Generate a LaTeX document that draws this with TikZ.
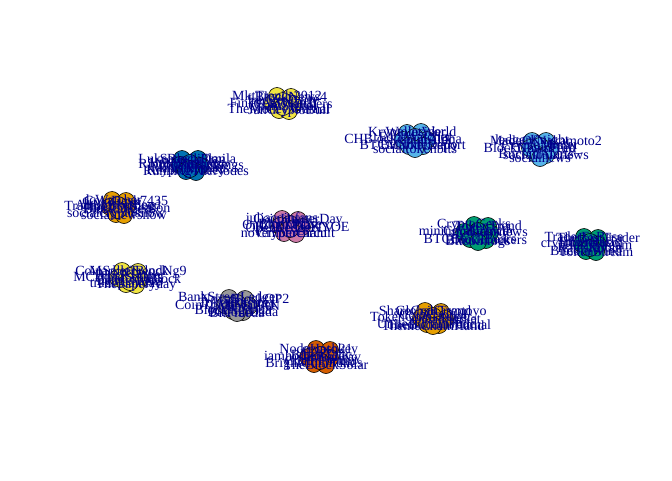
\documentclass[tikz,border=0pt]{standalone}
\usepackage{fontspec}
\setmainfont{Liberation Serif}
\definecolor{okyellow}{HTML}{F0E442}
\definecolor{oksky}{HTML}{56B4E9}
\definecolor{okblue}{HTML}{0072B2}
\definecolor{okorange}{HTML}{E69F00}
\definecolor{okpurple}{HTML}{CC79A7}
\definecolor{okgreen}{HTML}{009E73}
\definecolor{okgrey}{HTML}{999999}
\definecolor{okred}{HTML}{D55E00}
\definecolor{labelblue}{HTML}{00008B}
\tikzset{
  member/.style={circle, draw=black, line width=0.6pt, fill=#1, minimum size=17pt, inner sep=0pt},
  handle/.style={text=labelblue, font=\fontsize{14}{14}\selectfont, inner sep=0pt}
}
% one community: id, centre x, centre y, colour, list of dx/dy/label
\newcommand{\community}[5]{%
  \foreach \dx/\dy/\lab [count=\i] in {#5}
    \node[member=#4] (#1-\i) at (#2+\dx,#3+\dy) {};
  \foreach \dx/\dy/\lab [count=\i] in {#5}
    \node[handle] (#1-\i-name) at (#1-\i) {\lab};
}
\begin{document}
\begin{tikzpicture}[x=1pt,y=-1pt]
  \useasboundingbox (0,0) rectangle (672,480);
  \fill[white] (0,0) rectangle (672,480);

  % top communities
  \community{ka}{283}{103}{okyellow}{
    -6/-7/MktTrends2012, 8/-6/BlockNews4, -10/0/FinTechJournal, 10/1/CoinWatchers,
    0/-2/LedgerDaily, -4/7/TheMoneyJournal, 6/8/JanCryptoBull, 0/4/ChainSignal}
  \community{kb}{415}{140}{oksky}{
    -8/-7/Kryptoinsider, 6/-8/WalletWorld, -12/0/CHBlockchainAlpha, 12/0/coinbaldc,
    0/-3/ForkWatcher, -6/6/BTCMarketDaily, 8/6/BitNodeReport, 0/9/socialtokenbits}
  \community{kc}{540}{148}{oksky}{
    -8/-7/ledgerKnight, 6/-7/MadeOfNakamoto2, -10/0/BlockNewsFeed, 10/1/ChainHub\_,
    0/-2/CryptoMinter, -4/6/BitcoinAlerts, 6/7/socialcoinnews, 0/10/socialnews}
  \community{kd}{190}{165}{okblue}{
    -8/-6/LukeBlockPlan, 8/-6/SatoshiOmila, -10/0/RippleMarkets, 10/1/TokenRankings,
    0/-2/HashRateNow, -4/6/KryptoMoney, 6/7/RunningTheNodes, 0/4/MinerReports}

  % middle communities
  \community{ke}{118}{207}{okorange}{
    -6/-7/dcWatcher, 8/-6/CoinDesk7435, -8/0/TradingBotBlog, 8/1/TheCoinSeason,
    0/-2/AltMarketFeed, -2/7/socialcryptosnow, 6/8/socialnewsnow, 0/3/BlockDigest}
  \community{kf}{290}{226}{okpurple}{
    -8/-7/juliacoinfans, 8/-6/CoinHunterDay, -10/0/OnChainPlay, 12/1/HODLTOKYOE,
    0/-2/BlockPulse, -6/7/novemberchain, 6/8/CryptoCircuit, 0/3/OpenLedgerTV}
  \community{kg}{478}{233}{okgreen}{
    -4/-8/CryptoGeeks, 10/-7/TokenTrend, -14/-1/mining\_alliance, 12/0/nodeopsnews,
    0/-2/CoinGrowth, -8/6/BTCBlockBears, 8/7/BlockTrackers, 0/9/Bitcoinlogs}
  \community{kh}{590}{245}{okgreen}{
    -6/-8/TraderFxBase, 8/-7/TheBestTrader, -8/-1/cryptoprotocol, 8/0/HashStream,
    0/-3/EtherBasic, -4/6/BitcoinWind, 6/7/TokenStream, 0/3/RatesRoom}

  % bottom communities
  \community{ki}{130}{278}{okyellow}{
    -8/-7/CoinSellerBlock, 8/-6/MarketTrendNg9, -12/0/MCryptoSellers, 10/1/TheCoinBlock,
    0/-2/BlockTipper, -4/6/tradeplanday, 6/7/ThePaperyday, 0/4/LedgerLens}
  \community{kj}{237}{305}{okgrey}{
    -8/-7/BankStreetLedger, 8/-6/NovaBlockOP2, -12/0/CoinTradeMarket, 12/1/MinerTAN,
    0/-2/TokenDistrict, -4/6/BlockAgenda, 6/7/BitcoinDada, 0/8/BitFreeda}
  \community{kk}{433}{318}{okorange}{
    -8/-7/ShareCoinTrend, 8/-6/GlobalCryptoyo, -12/0/TokenCoinLedger, 12/1/socialmarket,
    0/-2/CoinCapital, -6/6/UnitedChainFund, 6/7/TheBitcoinJournal, 0/8/ThemeChainHand}
  \community{kl}{320}{357}{okred}{
    -4/-8/NodeHash21, 10/-7/cryptokey, -12/0/iamhodlertoday, 10/1/satoshiway,
    0/-2/BlockTalk, -6/7/BrightCoinFunds, 6/8/TheBlockSolar, 0/4/ChainForum}
\end{tikzpicture}
\end{document}
